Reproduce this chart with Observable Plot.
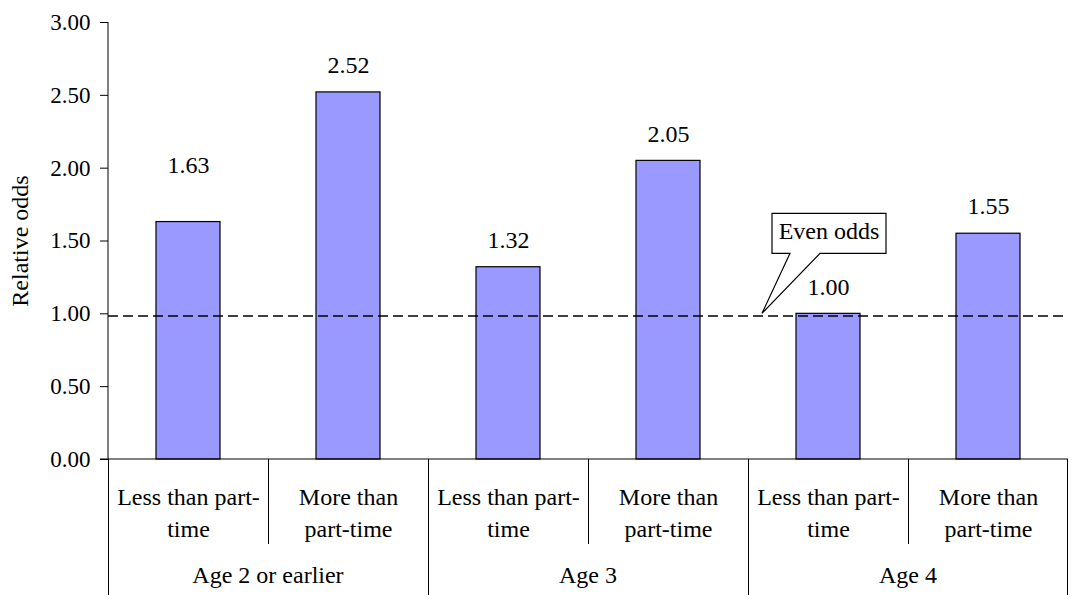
<!DOCTYPE html>
<html>
<head>
<meta charset="utf-8">
<script src="https://cdn.jsdelivr.net/npm/d3@7"></script>
<script src="https://cdn.jsdelivr.net/npm/@observablehq/plot@0.6"></script>
<style>
  html, body { margin: 0; padding: 0; background: #fff; }
  #chart svg { display: block; }
</style>
</head>
<body>
<div id="chart"></div>
<script>
// ---- data ----
const groups = ["Age 2 or earlier", "Age 3", "Age 4"];
const types = ["Less than part-time", "More than part-time"];
const typeLabels = ["Less than part-\ntime", "More than\npart-time"];
const values = [1.63, 2.52, 1.32, 2.05, 1.00, 1.55];
const evenOdds = 0.985;
const yTicks = [0, 0.5, 1, 1.5, 2, 2.5, 3];
const calloutText = "Even odds";
const calloutIndex = 4;

const rows = values.map((v, i) => ({
  key: groups[Math.floor(i / 2)] + "|" + types[i % 2],
  group: groups[Math.floor(i / 2)],
  label: typeLabels[i % 2],
  value: v,
  i
}));
const keys = rows.map(d => d.key);

const FONT = "Liberation Serif";
const FS = 24;

function decorations(index, scales, values_, dims) {
  const {x, y} = scales;
  const g = d3.create("svg:g");
  const step = x.step(), bw = x.bandwidth();
  const left = k => x(k) - (step - bw) / 2;
  const right = dims.width - dims.marginRight;
  const y0 = y(0);
  const bottom = dims.height;
  g.append("line").attr("x1", dims.marginLeft).attr("x2", dims.marginLeft)
    .attr("y1", y(3)).attr("y2", y0).attr("stroke", "#000");
  g.append("line").attr("x1", dims.marginLeft - 8).attr("x2", right)
    .attr("y1", y0).attr("y2", y0).attr("stroke", "#000");
  keys.forEach((k, i) => {
    const xx = Math.round(left(k)) + 0.5;
    const full = i % 2 === 0;
    g.append("line").attr("x1", xx).attr("x2", xx)
      .attr("y1", y0).attr("y2", full ? bottom : y0 + 85).attr("stroke", "#000");
  });
  g.append("line").attr("x1", right - 0.5).attr("x2", right - 0.5)
    .attr("y1", y0).attr("y2", bottom).attr("stroke", "#000");
  groups.forEach((grp, gi) => {
    const cx = left(keys[gi * 2]) + step;
    g.append("text").attr("x", cx).attr("y", y0 + 118)
      .attr("text-anchor", "middle").attr("dominant-baseline", "middle")
      .attr("font-family", FONT).attr("font-size", FS).attr("fill", "#000")
      .text(grp);
  });
  return g.node();
}

function callout(index, scales) {
  const {x, y} = scales;
  const cx = x(keys[calloutIndex]) + x.bandwidth() / 2;
  const tipY = y(1);
  const bb = tipY - 60, bt = bb - 40;
  const g = d3.create("svg:g");
  const pts = [
    [cx - 56, bt], [cx + 58, bt], [cx + 58, bb], [cx - 8, bb],
    [cx - 66, tipY], [cx - 38, bb], [cx - 56, bb]
  ];
  g.append("path").attr("d", "M" + pts.map(p => p.join(",")).join("L") + "Z")
    .attr("fill", "#fff").attr("stroke", "#000").attr("stroke-width", 1.2);
  g.append("text").attr("x", cx + 1).attr("y", (bt + bb) / 2)
    .attr("text-anchor", "middle").attr("dominant-baseline", "middle")
    .attr("font-family", FONT).attr("font-size", FS).attr("fill", "#000")
    .text(calloutText);
  return g.node();
}

const fmt = d3.format(".2f");

const chart = Plot.plot({
  width: 1072,
  height: 595,
  marginLeft: 108,
  marginRight: 4,
  marginTop: 22,
  marginBottom: 136,
  style: {background: "#fff", color: "#000"},
  x: {domain: keys, paddingInner: 0.6, paddingOuter: 0.3, axis: null},
  y: {domain: [0, 3], axis: null},
  marks: [
    Plot.axisY({ticks: yTicks, tickFormat: fmt, tickSize: 8, tickPadding: 10,
      fontSize: 23, fontFamily: FONT, label: null, stroke: "#000"}),
    Plot.barY(rows, {x: "key", y: "value", fill: "#9999FF", stroke: "#000", strokeWidth: 1.2}),
    Plot.ruleY([evenOdds], {stroke: "#000", strokeWidth: 1.5, strokeDasharray: "10,5"}),
    Plot.text(rows.filter(d => d.i !== 0), {x: "key", y: "value", text: d => fmt(d.value), dy: -27,
      fontSize: FS, fontFamily: FONT, fill: "#000"}),
    Plot.text(rows.filter(d => d.i === 0), {x: "key", y: "value", text: d => fmt(d.value), dy: -57,
      fontSize: FS, fontFamily: FONT, fill: "#000"}),
    Plot.text(rows, {x: "key", text: "label", frameAnchor: "bottom", lineAnchor: "top",
      dy: 22, lineHeight: 1.35, fontSize: FS, fontFamily: FONT, fill: "#000"}),
    Plot.text(["Relative odds"], {text: d => d, frameAnchor: "left", textAnchor: "middle",
      rotate: -90, dx: -88, fontSize: FS, fontFamily: FONT, fill: "#000"}),
    decorations,
    callout
  ]
});
document.getElementById("chart").appendChild(chart);
</script>
</body>
</html>
